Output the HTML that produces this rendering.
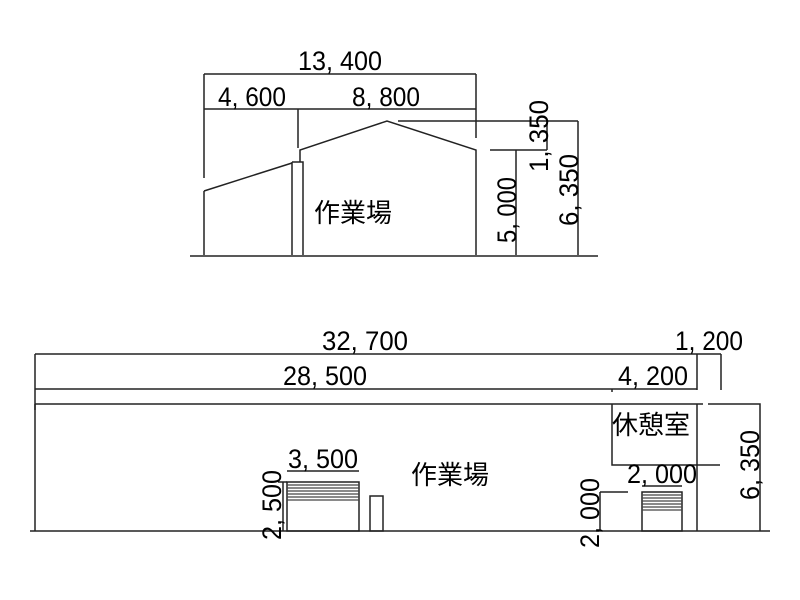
<!DOCTYPE html>
<html><head><meta charset="utf-8"><style>body{margin:0;background:#fff}svg{display:block}</style></head><body>
<svg width="800" height="600" xmlns="http://www.w3.org/2000/svg" font-family="'Liberation Sans','Noto Sans CJK JP',sans-serif" font-size="27" fill="#000">
<g stroke="#222" stroke-width="1.5" fill="none">
<path d="M204 74H476M204 109H476M204 74V138M204 109V178M476 74V138M298 109V148"/>
<path d="M398 121H578M490 150H547M516 150V255M547 120V150M578 121V255"/>
<path d="M190 256H598"/>
<path d="M204 191V255M204 191L292 163M292 162H303V255M292 162V255M300 162V150L387 121L476 150V255"/>
<path d="M35 354H721M35 389H697M35 354V410M612 389V392M697 354V390M721 354V390"/>
<path d="M30 531H770M35 404H703M708 404H760V531M35 404V531M612 404V465H720M697 404V531"/>
<path d="M287 471H359M283 482V531M278 482H287"/>
<rect x="287" y="482" width="72" height="49"/>
<rect x="370" y="496" width="13" height="35"/>
<path d="M642 486H682M600 492V531M600 492H628"/>
<rect x="642" y="492" width="40" height="39"/>
</g>
<g stroke="#444" stroke-width="1.2">
<path d="M287 485H359M287 488H359M287 491H359M287 494H359M287 497H359M287 500H359"/>
<path d="M642 495H682M642 498H682M642 501H682M642 504H682M642 507H682M642 510H682"/>
</g>
<text x="298" y="70" textLength="84" lengthAdjust="spacingAndGlyphs">13, 400</text>
<text x="218" y="106" textLength="68" lengthAdjust="spacingAndGlyphs">4, 600</text>
<text x="352" y="106" textLength="68" lengthAdjust="spacingAndGlyphs">8, 800</text>
<text x="314" y="222" font-size="26">作業場</text>
<text transform="translate(516,243) rotate(-90)" textLength="66" lengthAdjust="spacingAndGlyphs">5, 000</text>
<text transform="translate(548,172) rotate(-90)" textLength="72" lengthAdjust="spacingAndGlyphs">1, 350</text>
<text transform="translate(578,226) rotate(-90)" textLength="72" lengthAdjust="spacingAndGlyphs">6, 350</text>
<text x="322" y="350" textLength="86" lengthAdjust="spacingAndGlyphs">32, 700</text>
<text x="283" y="385" textLength="84" lengthAdjust="spacingAndGlyphs">28, 500</text>
<text x="618" y="385" textLength="70" lengthAdjust="spacingAndGlyphs">4, 200</text>
<text x="675" y="350" textLength="68" lengthAdjust="spacingAndGlyphs">1, 200</text>
<text x="612" y="434" font-size="26">休憩室</text>
<text x="411" y="484" font-size="26">作業場</text>
<text x="288" y="468" textLength="70" lengthAdjust="spacingAndGlyphs">3, 500</text>
<text x="627" y="483" textLength="70" lengthAdjust="spacingAndGlyphs">2, 000</text>
<text transform="translate(281,540) rotate(-90)" textLength="70" lengthAdjust="spacingAndGlyphs">2, 500</text>
<text transform="translate(599,548) rotate(-90)" textLength="70" lengthAdjust="spacingAndGlyphs">2, 000</text>
<text transform="translate(759,500) rotate(-90)" textLength="70" lengthAdjust="spacingAndGlyphs">6, 350</text>
</svg>
</body></html>
